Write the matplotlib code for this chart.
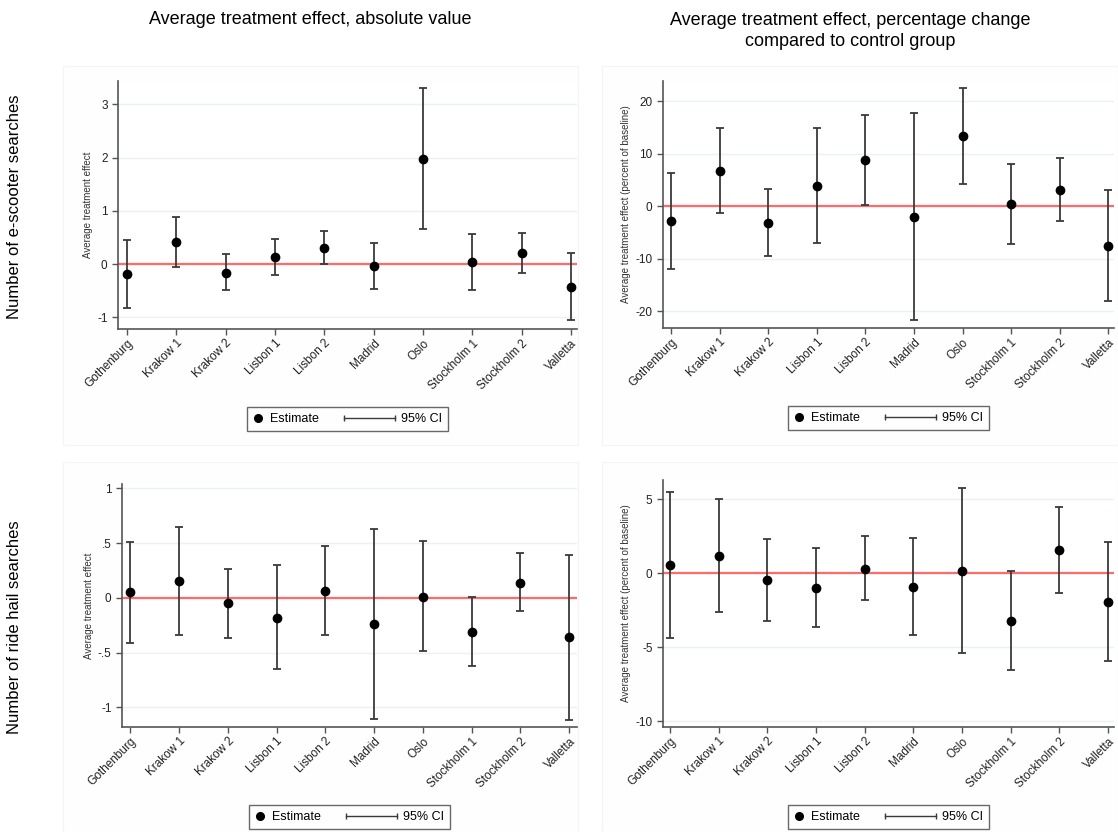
import matplotlib
matplotlib.use("Agg")
from matplotlib import pyplot as plt
from matplotlib.lines import Line2D
from matplotlib.legend_handler import HandlerBase
import matplotlib.patches as patches
import numpy as np

plt.rcParams['font.family'] = ['Liberation Sans', 'DejaVu Sans']

cities = ["Gothenburg", "Krakow 1", "Krakow 2", "Lisbon 1", "Lisbon 2",
          "Madrid", "Oslo", "Stockholm 1", "Stockholm 2", "Valletta"]

# e-scooter searches, absolute
sc_abs_est = [-0.19, 0.41, -0.16, 0.13, 0.31, -0.04, 1.98, 0.04, 0.21, -0.44]
sc_abs_lo = [-0.82, -0.06, -0.49, -0.21, 0.01, -0.47, 0.65, -0.49, -0.16, -1.06]
sc_abs_hi = [0.45, 0.89, 0.18, 0.47, 0.63, 0.39, 3.31, 0.57, 0.59, 0.20]

# e-scooter searches, percent
sc_pct_est = [-2.8, 6.8, -3.1, 3.9, 8.8, -2.0, 13.4, 0.4, 3.2, -7.5]
sc_pct_lo = [-12.0, -1.2, -9.4, -6.9, 0.3, -21.7, 4.3, -7.2, -2.8, -18.0]
sc_pct_hi = [6.4, 15.0, 3.4, 14.9, 17.4, 17.8, 22.5, 8.0, 9.2, 3.1]

# ride hail searches, absolute
rh_abs_est = [0.05, 0.15, -0.05, -0.18, 0.06, -0.24, 0.01, -0.31, 0.14, -0.36]
rh_abs_lo = [-0.41, -0.34, -0.37, -0.65, -0.34, -1.11, -0.49, -0.62, -0.12, -1.12]
rh_abs_hi = [0.51, 0.65, 0.26, 0.30, 0.47, 0.63, 0.52, 0.01, 0.41, 0.39]

# ride hail searches, percent
rh_pct_est = [0.54, 1.19, -0.47, -1.01, 0.32, -0.90, 0.18, -3.22, 1.58, -1.91]
rh_pct_lo = [-4.37, -2.64, -3.22, -3.63, -1.78, -4.19, -5.41, -6.53, -1.31, -5.90]
rh_pct_hi = [5.50, 5.05, 2.30, 1.73, 2.50, 2.41, 5.74, 0.18, 4.46, 2.12]

W, H = 1118, 832
fig = plt.figure(figsize=(W / 100, H / 100), dpi=100)


class Dot(HandlerBase):
    def create_artists(self, legend, orig_handle, xdescent, ydescent,
                       width, height, fontsize, trans):
        m = Line2D([width / 2 - xdescent], [height / 2 - ydescent], linestyle="none",
                   marker="o", color="black", markersize=5.5, transform=trans)
        return [m]


class CapLine(HandlerBase):
    # long capped line that reaches left past the (short) handle box
    def create_artists(self, legend, orig_handle, xdescent, ydescent,
                       width, height, fontsize, trans):
        y = height / 2 - ydescent
        x1 = width - xdescent
        x0 = x1 - 37
        ln = Line2D([x0, x1], [y, y], color="#3a3a3a", linewidth=1,
                    marker="|", markersize=5, transform=trans)
        return [ln]


def fpos(l, t, r, b):
    return [l / W, 1 - b / H, (r - l) / W, (b - t) / H]

panels = [
    # est, lo, hi, axes box (px), xlim, ylim, yticks, ticklabels, ylabel
    (sc_abs_est, sc_abs_lo, sc_abs_hi, (118, 81, 577, 329), (-0.18, 9.12), (-1.22, 3.44),
     [-1, 0, 1, 2, 3], ["-1", "0", "1", "2", "3"], "Average treatment effect"),
    (sc_pct_est, sc_pct_lo, sc_pct_hi, (663, 81, 1114, 328), (-0.17, 9.12), (-23.2, 23.9),
     [-20, -10, 0, 10, 20], ["-20", "-10", "0", "10", "20"],
     "Average treatment effect (percent of baseline)"),
    (rh_abs_est, rh_abs_lo, rh_abs_hi, (122, 484, 577, 727), (-0.17, 9.16), (-1.18, 1.04),
     [-1, -0.5, 0, 0.5, 1], ["-1", "-.5", "0", ".5", "1"], "Average treatment effect"),
    (rh_pct_est, rh_pct_lo, rh_pct_hi, (663, 480, 1114, 727), (-0.14, 9.12), (-10.38, 6.3),
     [-10, -5, 0, 5], ["-10", "-5", "0", "5"],
     "Average treatment effect (percent of baseline)"),
]

# faint panel backgrounds
for (l, t, r, b) in [(63, 66, 578, 445), (602, 66, 1118, 445),
                     (63, 462, 578, 832), (602, 462, 1118, 832)]:
    fig.patches.append(patches.Rectangle((l / W, 1 - b / H), (r - l) / W, (b - t) / H,
                                         transform=fig.transFigure, facecolor="#fefefe",
                                         edgecolor="#f4f4f4", linewidth=0.8, zorder=-5))

x = np.arange(len(cities))
for est, lo, hi, box, xl, yl, yt, ytl, ylab in panels:
    ax = fig.add_axes(fpos(*box))
    ax.set_facecolor("white")
    est = np.array(est)
    err = [est - np.array(lo), np.array(hi) - est]
    ax.axhline(0, color="#ff6b6b", linewidth=1.6, zorder=2)
    ax.errorbar(x, est, yerr=err, fmt="o", color="black", ecolor="#3a3a3a",
                elinewidth=1.3, capsize=3, capthick=1.3, markersize=6, zorder=3)
    ax.set_xlim(*xl)
    ax.set_ylim(*yl)
    ax.set_yticks(yt)
    ax.set_yticklabels(ytl)
    ax.set_xticks(x)
    ax.set_xticklabels(cities, rotation=45, ha="right", rotation_mode="anchor")
    ax.yaxis.grid(True, color="#eaf2f2", linewidth=1)
    ax.set_axisbelow(True)
    for s in ["top", "right"]:
        ax.spines[s].set_visible(False)
    for s in ["left", "bottom"]:
        ax.spines[s].set_color("#555555")
        ax.spines[s].set_linewidth(1.2)
    ax.tick_params(axis="both", colors="#555555", labelcolor="#222222",
                   labelsize=8.5, length=4, width=1)
    ax.tick_params(axis="x", pad=2)
    ax.set_ylabel(ylab, fontsize=7, color="#333333", labelpad=3)

    est_h = Line2D([], [])
    ci_h = Line2D([], [], color="#3a3a3a")
    leg = ax.legend([est_h, ci_h], ["Estimate", "95% CI"], loc="center",
                    handler_map={est_h: Dot(), ci_h: CapLine()},
                    ncol=2, fontsize=9, frameon=True, fancybox=False,
                    edgecolor="#444444", handlelength=0.9, columnspacing=5.2,
                    handletextpad=0.5, borderpad=0.45, borderaxespad=0)
    leg.set_bbox_to_anchor(((box[0] + box[2]) / 2 / W, 1 - (box[3] + 90) / H),
                           transform=fig.transFigure)
    leg.get_frame().set_linewidth(1)

fig.text(310 / W, 1 - 20 / H, "Average treatment effect, absolute value",
         ha="center", va="center", fontsize=13)
fig.text(850 / W, 1 - 31 / H, "Average treatment effect, percentage change\ncompared to control group",
         ha="center", va="center", fontsize=13, linespacing=1.25)
fig.text(15 / W, 1 - 207 / H, "Number of e-scooter searches", rotation=90,
         ha="center", va="center", fontsize=12)
fig.text(15 / W, 1 - 627 / H, "Number of ride hail searches", rotation=90,
         ha="center", va="center", fontsize=12)

fig.savefig("out.png", dpi=100)
